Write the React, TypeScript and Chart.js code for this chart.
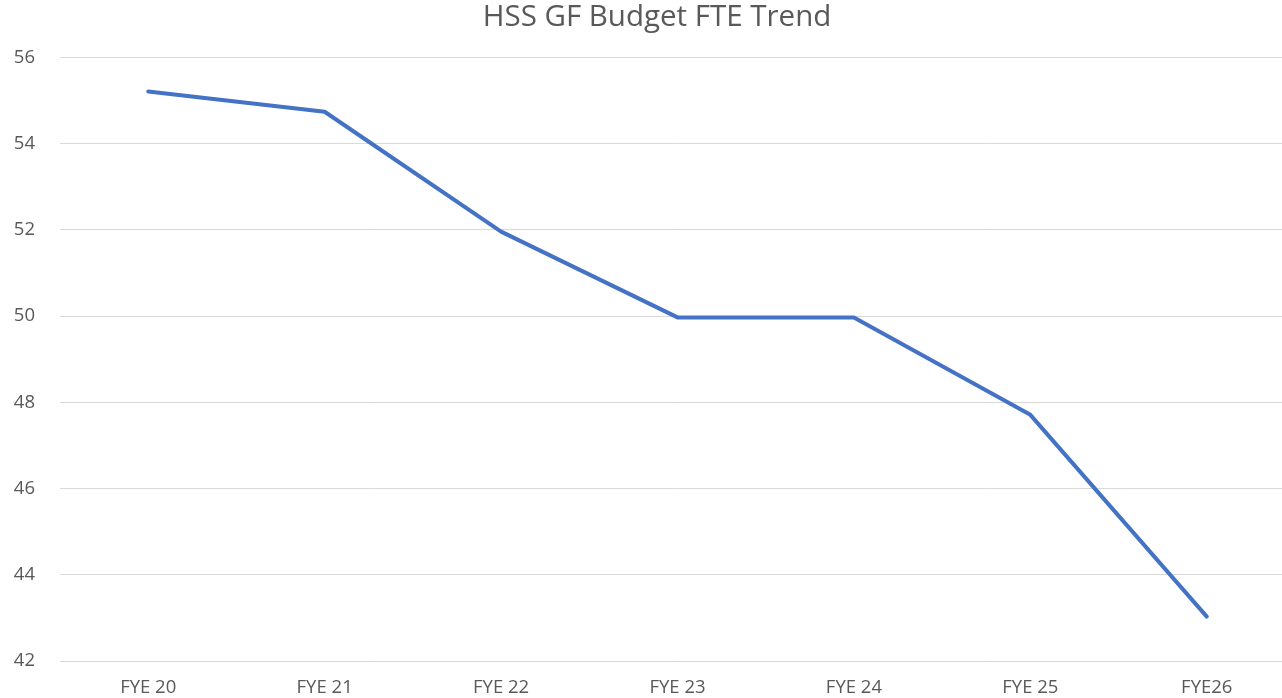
import React, { useEffect, useRef } from "react";
import { Chart, registerables } from "chart.js";

Chart.register(...registerables);

const TITLE = "HSS GF Budget FTE Trend";
const categories = ["FYE 20", "FYE 21", "FYE 22", "FYE 23", "FYE 24", "FYE 25", "FYE26"];
const fteValues = [55.21, 54.74, 51.96, 49.97, 49.97, 47.71, 43.03];
const yMin = 42;
const yMax = 56;
const yStep = 2;

const FONT = "'Open Sans', sans-serif";
const TEXT = "#595959";

export default function App() {
  const ref = useRef<HTMLCanvasElement | null>(null);

  useEffect(() => {
    const canvas = ref.current;
    if (!canvas) return;
    const chart = new Chart(canvas, {
      type: "line",
      data: {
        labels: categories,
        datasets: [
          {
            label: "FTE",
            data: fteValues,
            yAxisID: "y",
            borderColor: "#4472c4",
            backgroundColor: "#4472c4",
            borderWidth: 4,
            pointRadius: 0,
            tension: 0,
            borderCapStyle: "round",
            borderJoinStyle: "round",
          },
        ],
      },
      options: {
        responsive: false,
        animation: false,
        layout: { padding: 0 },
        plugins: {
          legend: { display: false },
          tooltip: { enabled: false },
          title: {
            display: true,
            text: TITLE,
            color: TEXT,
            font: { family: FONT, size: 29.5, weight: "normal", lineHeight: 1.2 },
            padding: { top: 0, bottom: 22 },
          },
        },
        scales: {
          x: {
            type: "category",
            offset: true,
            grid: { display: false, drawTicks: false },
            border: { display: false },
            ticks: {
              color: TEXT,
              font: { family: FONT, size: 18.5 },
              padding: 16,
              maxRotation: 0,
              autoSkip: false,
            },
            afterFit: (s: any) => {
              s.height = 37;
            },
          },
          y: {
            position: "left",
            min: yMin,
            max: yMax,
            grid: { color: "#d9d9d9", lineWidth: 1, drawTicks: false },
            border: { display: false },
            ticks: {
              stepSize: yStep,
              color: TEXT,
              font: { family: FONT, size: 18.5 },
              padding: 25,
            },
            afterFit: (s: any) => {
              s.width = 60;
            },
          },
          spacer: {
            type: "linear",
            position: "right",
            display: true,
            grid: { display: false, drawTicks: false },
            border: { display: false },
            ticks: { display: false },
            afterFit: (s: any) => {
              s.width = 19;
            },
          },
        },
      },
    });
    return () => chart.destroy();
  }, []);

  return (
    <div
      style={{
        position: "fixed",
        left: 0,
        top: 0,
        width: 1282,
        height: 698,
        overflow: "hidden",
        background: "#ffffff",
      }}
    >
      <canvas ref={ref} width={1314} height={698} style={{ display: "block" }} />
    </div>
  );
}
